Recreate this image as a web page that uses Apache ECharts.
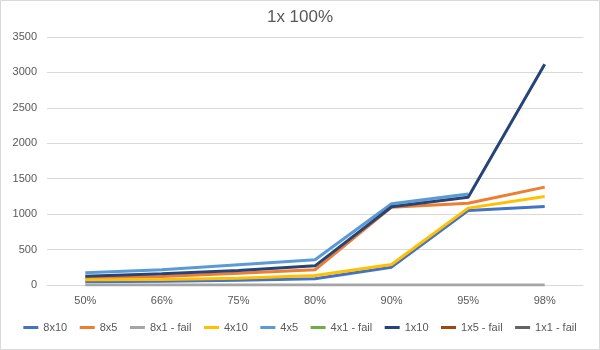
<!DOCTYPE html>
<html>
<head>
<meta charset="utf-8">
<script src="https://cdn.jsdelivr.net/npm/echarts@6/dist/echarts.min.js"></script>
<style>
  html, body { margin: 0; padding: 0; background: #fff; }
  #chart { width: 600px; height: 350px; }
</style>
</head>
<body>
<div id="chart"></div>
<script>
// Categories along the x axis
const categories = ['50%', '66%', '75%', '80%', '90%', '95%', '98%'];

// Series values per configuration
const s8x10    = [45, 54, 68, 88, 252, 1052, 1109];
const s8x5     = [100, 120, 167, 215, 1099, 1155, 1381];
const s8x1fail = [0, 0, 0, 0, 0, 0, 0];
const s4x10    = [73, 78, 96, 134, 290, 1085, 1250];
const s4x5     = [172, 215, 285, 356, 1147, 1285, null];
const s4x1fail = [];
const s1x10    = [124, 158, 205, 270, 1105, 1240, 3114];
const s1x5fail = [];
const s1x1fail = [];

const seriesNames  = ['8x10', '8x5', '8x1 - fail', '4x10', '4x5', '4x1 - fail', '1x10', '1x5 - fail', '1x1 - fail'];
const seriesValues = [s8x10, s8x5, s8x1fail, s4x10, s4x5, s4x1fail, s1x10, s1x5fail, s1x1fail];
const seriesColors = ['#4472C4', '#ED7D31', '#A5A5A5', '#FFC000', '#5B9BD5', '#70AD47', '#264478', '#9E480E', '#636363'];

// Y-axis range
const yMin = 0, yMax = 3500, yStep = 500;

const textColor = '#595959';
const font = 'Liberation Sans, Arial, sans-serif';

const chart = echarts.init(document.getElementById('chart'), null, { renderer: 'canvas' });

chart.setOption({
  animation: false,
  backgroundColor: '#fff',
  color: seriesColors,
  graphic: [{
    type: 'rect',
    shape: { x: 0.5, y: 0.5, width: 599, height: 349 },
    style: { fill: 'none', stroke: '#D9D9D9', lineWidth: 1 },
    silent: true
  }],
  title: {
    text: '1x 100%',
    left: 'center',
    top: 4,
    textStyle: { color: textColor, fontSize: 17, fontWeight: 'normal', fontFamily: font }
  },
  grid: { left: 47, right: 17, top: 37, bottom: 65 },
  xAxis: {
    type: 'category',
    data: categories,
    boundaryGap: true,
    axisLine: { lineStyle: { color: '#D9D9D9' } },
    axisTick: { show: false },
    axisLabel: { color: textColor, fontSize: 11, fontFamily: font, margin: 10 }
  },
  yAxis: {
    type: 'value',
    min: yMin, max: yMax, interval: yStep,
    axisLine: { show: false },
    axisTick: { show: false },
    splitLine: { lineStyle: { color: '#D9D9D9', width: 1 } },
    axisLabel: { color: textColor, fontSize: 11, fontFamily: font, margin: 10, formatter: v => String(v) }
  },
  legend: {
    bottom: 12,
    left: 'center',
    icon: 'rect',
    itemWidth: 15,
    itemHeight: 3,
    itemGap: 12.5,
    textStyle: { color: textColor, fontSize: 11, fontFamily: font },
    data: seriesNames
  },
  series: seriesNames.map((name, i) => ({
    name,
    type: 'line',
    data: seriesValues[i],
    showSymbol: false,
    symbol: 'none',
    lineStyle: { width: 3, color: seriesColors[i] },
    itemStyle: { color: seriesColors[i] },
    z: 2 + i
  }))
});
</script>
</body>
</html>
